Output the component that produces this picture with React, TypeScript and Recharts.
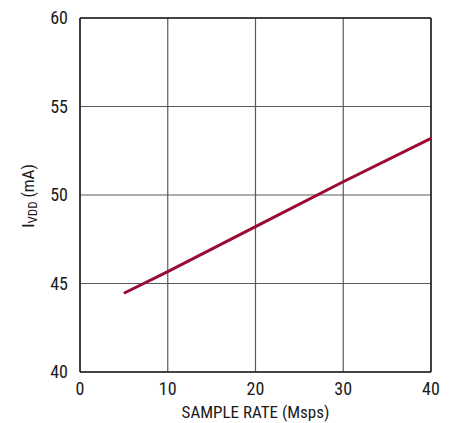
import React from "react";
import {
  LineChart,
  Line,
  XAxis,
  YAxis,
  CartesianGrid,
  ReferenceLine,
  Label,
} from "recharts";

const sampleRate = [5, 10, 20, 30, 40];
const ivdd = [44.45, 45.67, 48.21, 50.75, 53.2];
const xTicks = [0, 10, 20, 30, 40];
const yTicks = [40, 45, 50, 55, 60];

const data = sampleRate.map((x, i) => ({ rate: x, ivdd: ivdd[i] }));

const FONT = "'Liberation Sans Narrow', 'Roboto Condensed', 'Liberation Sans', sans-serif";
const TEXT = "#1a1a1a";

const YLabel = () => (
  <text
    x={28}
    y={196}
    transform="rotate(-90 28 196)"
    textAnchor="middle"
    dominantBaseline="central"
    fontFamily={FONT}
    fontSize={17}
    fill={TEXT}
  >
    I
    <tspan fontSize={13} dy={4}>VDD</tspan>
    <tspan dy={-4}> (mA)</tspan>
  </text>
);

export default function App() {
  return (
    <div style={{ position: "absolute", left: 0, top: 0, background: "#fff" }}>
      <LineChart
        width={453}
        height={423}
        data={data}
        margin={{ top: 18, right: 22, bottom: 21, left: 20 }}
      >
        <CartesianGrid stroke="#5a5a5a" strokeWidth={1.2} />
        <XAxis
          dataKey="rate"
          type="number"
          domain={[0, 40]}
          ticks={xTicks}
          height={30}
          axisLine={{ stroke: "#222", strokeWidth: 1.5 }}
          tickLine={false}
          tickMargin={4}
          tick={{ fontFamily: FONT, fontSize: 18, fill: TEXT }}
        >
          <Label
            value="SAMPLE RATE (Msps)"
            position="insideBottom"
            offset={-16}
            style={{ fontFamily: FONT, fontSize: 17, fill: TEXT }}
          />
        </XAxis>
        <YAxis
          type="number"
          domain={[40, 60]}
          ticks={yTicks}
          width={60}
          axisLine={{ stroke: "#222", strokeWidth: 1.5 }}
          tickLine={false}
          tickMargin={6}
          tick={{ fontFamily: FONT, fontSize: 18, fill: TEXT }}
          label={<YLabel />}
        />
        <ReferenceLine y={60} stroke="#222" strokeWidth={1.5} />
        <ReferenceLine x={40} stroke="#222" strokeWidth={1.5} />
        <Line
          type="linear"
          dataKey="ivdd"
          stroke="#9b0a32"
          strokeWidth={3}
          dot={false}
          isAnimationActive={false}
        />
      </LineChart>
    </div>
  );
}
